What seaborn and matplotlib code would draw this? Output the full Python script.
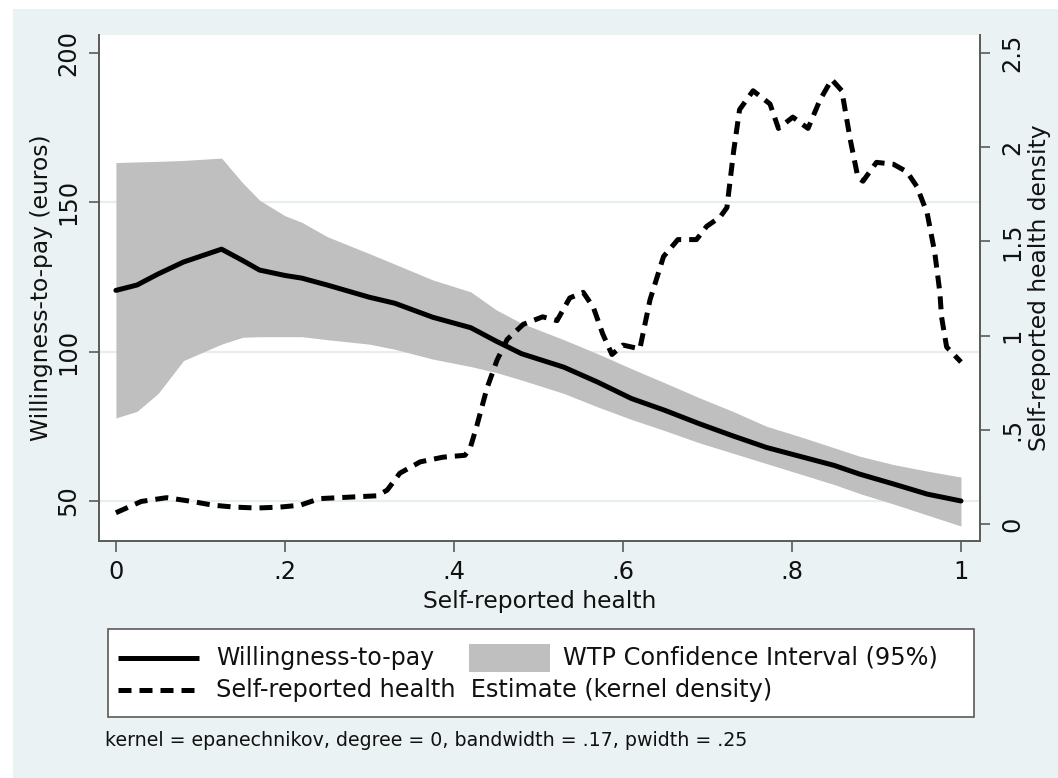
import numpy as np
import pandas as pd
import seaborn as sns
import matplotlib
matplotlib.use("Agg")
import matplotlib.pyplot as plt
from matplotlib.patches import Rectangle
from matplotlib.lines import Line2D

# Willingness-to-pay (euros) with its 95% confidence band
wtp_x = [0.0, 0.025, 0.05, 0.08, 0.125, 0.15, 0.17, 0.2, 0.22, 0.25, 0.3, 0.33,
         0.375, 0.42, 0.45, 0.48, 0.53, 0.57, 0.61, 0.65, 0.69, 0.73, 0.77,
         0.81, 0.85, 0.88, 0.92, 0.96, 1.0]
wtp = [120.5, 122.3, 126.0, 130.0, 134.3, 130.5, 127.3, 125.5, 124.6, 122.3,
       118.2, 116.2, 111.5, 108.0, 103.5, 99.3, 94.8, 89.8, 84.3, 80.3, 75.9,
       71.8, 67.9, 64.9, 61.9, 59.0, 55.7, 52.3, 50.0]
ci_upper = [163.3, 163.5, 163.7, 164.0, 164.8, 156.5, 150.7, 145.5, 143.3,
            138.5, 132.8, 129.3, 124.0, 120.0, 114.0, 109.5, 104.0, 99.3, 94.3,
            89.5, 84.6, 80.0, 75.0, 71.5, 67.8, 65.0, 62.2, 60.0, 58.0]
ci_lower = [77.8, 80.0, 86.0, 97.0, 102.5, 104.8, 105.0, 105.0, 105.0, 104.0,
            102.5, 100.8, 97.5, 95.0, 93.0, 90.5, 86.0, 81.5, 77.3, 73.5, 69.5,
            66.0, 62.5, 59.0, 55.5, 52.5, 49.0, 45.3, 41.6]

# Kernel density of self-reported health
dens_x = [0.0, 0.03, 0.06, 0.09, 0.115, 0.14, 0.167, 0.194, 0.218, 0.241, 0.277,
          0.309, 0.321, 0.336, 0.36, 0.387, 0.413, 0.419, 0.427, 0.439, 0.451,
          0.463, 0.482, 0.505, 0.522, 0.537, 0.553, 0.565, 0.576, 0.587, 0.6,
          0.62, 0.632, 0.648, 0.665, 0.687, 0.699, 0.715, 0.723, 0.731, 0.738,
          0.754, 0.774, 0.784, 0.801, 0.819, 0.833, 0.847, 0.859, 0.869, 0.878,
          0.884, 0.9, 0.92, 0.936, 0.948, 0.96, 0.969, 0.975, 0.977, 0.983, 1.0]
density = [0.06, 0.12, 0.14, 0.12, 0.10, 0.09, 0.085, 0.09, 0.10, 0.135, 0.143,
           0.15, 0.18, 0.27, 0.33, 0.355, 0.365, 0.40, 0.52, 0.72, 0.87, 0.98,
           1.06, 1.10, 1.08, 1.20, 1.23, 1.15, 1.01, 0.90, 0.95, 0.93, 1.19,
           1.42, 1.51, 1.51, 1.58, 1.63, 1.68, 1.98, 2.20, 2.30, 2.23, 2.10,
           2.16, 2.10, 2.25, 2.36, 2.30, 2.04, 1.84, 1.82, 1.92, 1.91, 1.87,
           1.79, 1.65, 1.44, 1.23, 1.10, 0.94, 0.86]

x_ticks = [0, 0.2, 0.4, 0.6, 0.8, 1.0]
x_ticklabels = ["0", ".2", ".4", ".6", ".8", "1"]
y_ticks = [50, 100, 150, 200]
y2_ticks = [0, 0.5, 1, 1.5, 2, 2.5]
y2_ticklabels = ["0", ".5", "1", "1.5", "2", "2.5"]

legend_labels = ["Willingness-to-pay", "WTP Confidence Interval (95%)",
                 "Self-reported health  Estimate (kernel density)"]
note = "kernel = epanechnikov, degree = 0, bandwidth = .17, pwidth = .25"

sns.set_theme(style="white")
plt.rcParams["font.family"] = ["DejaVu Sans"]
plt.rcParams["text.color"] = "#111111"
plt.rcParams["axes.labelcolor"] = "#111111"
plt.rcParams["xtick.labelcolor"] = "#111111"
plt.rcParams["ytick.labelcolor"] = "#111111"

W, H = 1058, 778
BG = "#EAF2F3"
AX_COL = "#5a5a5a"
BAND = "#BFBFBF"


def fx(px):
    return px / W


def fy(py):
    return 1 - py / H


fig = plt.figure(figsize=(W / 100, H / 100), dpi=100, facecolor="white")
fig.patches.append(Rectangle((fx(13), 0), 1 - fx(13), fy(9), transform=fig.transFigure,
                             facecolor=BG, edgecolor="none", zorder=-5))

ax = fig.add_axes([fx(99), fy(541), fx(980) - fx(99), fy(35) - fy(541)])
ax.set_facecolor("white")
ax.set_axisbelow(True)

wtp_df = pd.DataFrame({"x": wtp_x, "wtp": wtp, "lo": ci_lower, "hi": ci_upper})
ax.fill_between(wtp_df["x"], wtp_df["lo"], wtp_df["hi"], color=BAND, lw=0, zorder=2)
sns.lineplot(data=wtp_df, x="x", y="wtp", ax=ax, color="black", lw=3.6,
             estimator=None, sort=False, zorder=3)

ax.set_xlim(-0.020, 1.0225)
ax.set_ylim(36.6, 206.0)
ax.set_xticks(x_ticks)
ax.set_xticklabels(x_ticklabels)
ax.set_yticks(y_ticks)
ax.set_yticklabels([str(v) for v in y_ticks])
for g in [50, 100, 150]:
    ax.axhline(g, color="#E6EEEF", lw=1.6, zorder=0.5)

ax.set_xlabel("Self-reported health", fontsize=16.8, labelpad=4)
ax.set_ylabel("Willingness-to-pay (euros)", fontsize=16.8, labelpad=2)
ax.tick_params(axis="x", length=8, width=1.2, color=AX_COL, labelsize=17.3, pad=6,
               direction="out", bottom=True)
ax.tick_params(axis="y", length=7.5, width=1.2, color=AX_COL, labelsize=17.3, pad=6,
               direction="out", left=True, labelrotation=90)
for lbl in ax.get_yticklabels():
    lbl.set_va("center")
for side in ["top", "right"]:
    ax.spines[side].set_visible(False)
for side in ["left", "bottom"]:
    ax.spines[side].set_color(AX_COL)
    ax.spines[side].set_linewidth(1.4)

ax2 = ax.twinx()
dens_df = pd.DataFrame({"x": dens_x, "density": density})
sns.lineplot(data=dens_df, x="x", y="density", ax=ax2, color="black", lw=3.6,
             estimator=None, sort=False, linestyle=(0, (2.6, 1.6)))
for ln in ax2.lines:
    ln.set_dash_capstyle("butt")
ax2.set_ylim(-0.090, 2.596)
ax2.set_yticks(y2_ticks)
ax2.set_yticklabels(y2_ticklabels)
ax2.set_ylabel("Self-reported health density", fontsize=16.8, labelpad=3)
ax2.tick_params(axis="y", length=7.5, width=1.2, color=AX_COL, labelsize=17.3, pad=7,
                direction="out", right=True, labelrotation=90)
for lbl in ax2.get_yticklabels():
    lbl.set_va("center")
for side in ["top", "left", "bottom"]:
    ax2.spines[side].set_visible(False)
ax2.spines["right"].set_color(AX_COL)
ax2.spines["right"].set_linewidth(1.4)
ax2.set_xlabel("Self-reported health", fontsize=16.8, labelpad=4)

# Legend box below the plot
fig.add_artist(Rectangle((fx(108), fy(717)), fx(974) - fx(108), fy(629) - fy(717),
                         transform=fig.transFigure, facecolor="white",
                         edgecolor=AX_COL, lw=1.2))
fig.add_artist(Line2D([fx(118), fx(199)], [fy(658), fy(658)], transform=fig.transFigure,
                      color="black", lw=3.6, solid_capstyle="butt"))
fig.add_artist(Line2D([fx(118), fx(199)], [fy(690), fy(690)], transform=fig.transFigure,
                      color="black", lw=3.6, linestyle=(0, (2.6, 1.6)),
                      dash_capstyle="butt"))
fig.add_artist(Rectangle((fx(469), fy(672)), fx(550) - fx(469), fy(644) - fy(672),
                         transform=fig.transFigure, facecolor=BAND, edgecolor="none"))
fig.text(fx(216), fy(658), legend_labels[0], fontsize=17.0, va="center", ha="left")
fig.text(fx(563), fy(658), legend_labels[1], fontsize=17.3, va="center", ha="left")
fig.text(fx(216), fy(690), legend_labels[2], fontsize=17.3, va="center", ha="left")
fig.text(fx(105), fy(740), note, fontsize=13.7, va="center", ha="left")

fig.savefig("out.png", dpi=100, facecolor="white")
